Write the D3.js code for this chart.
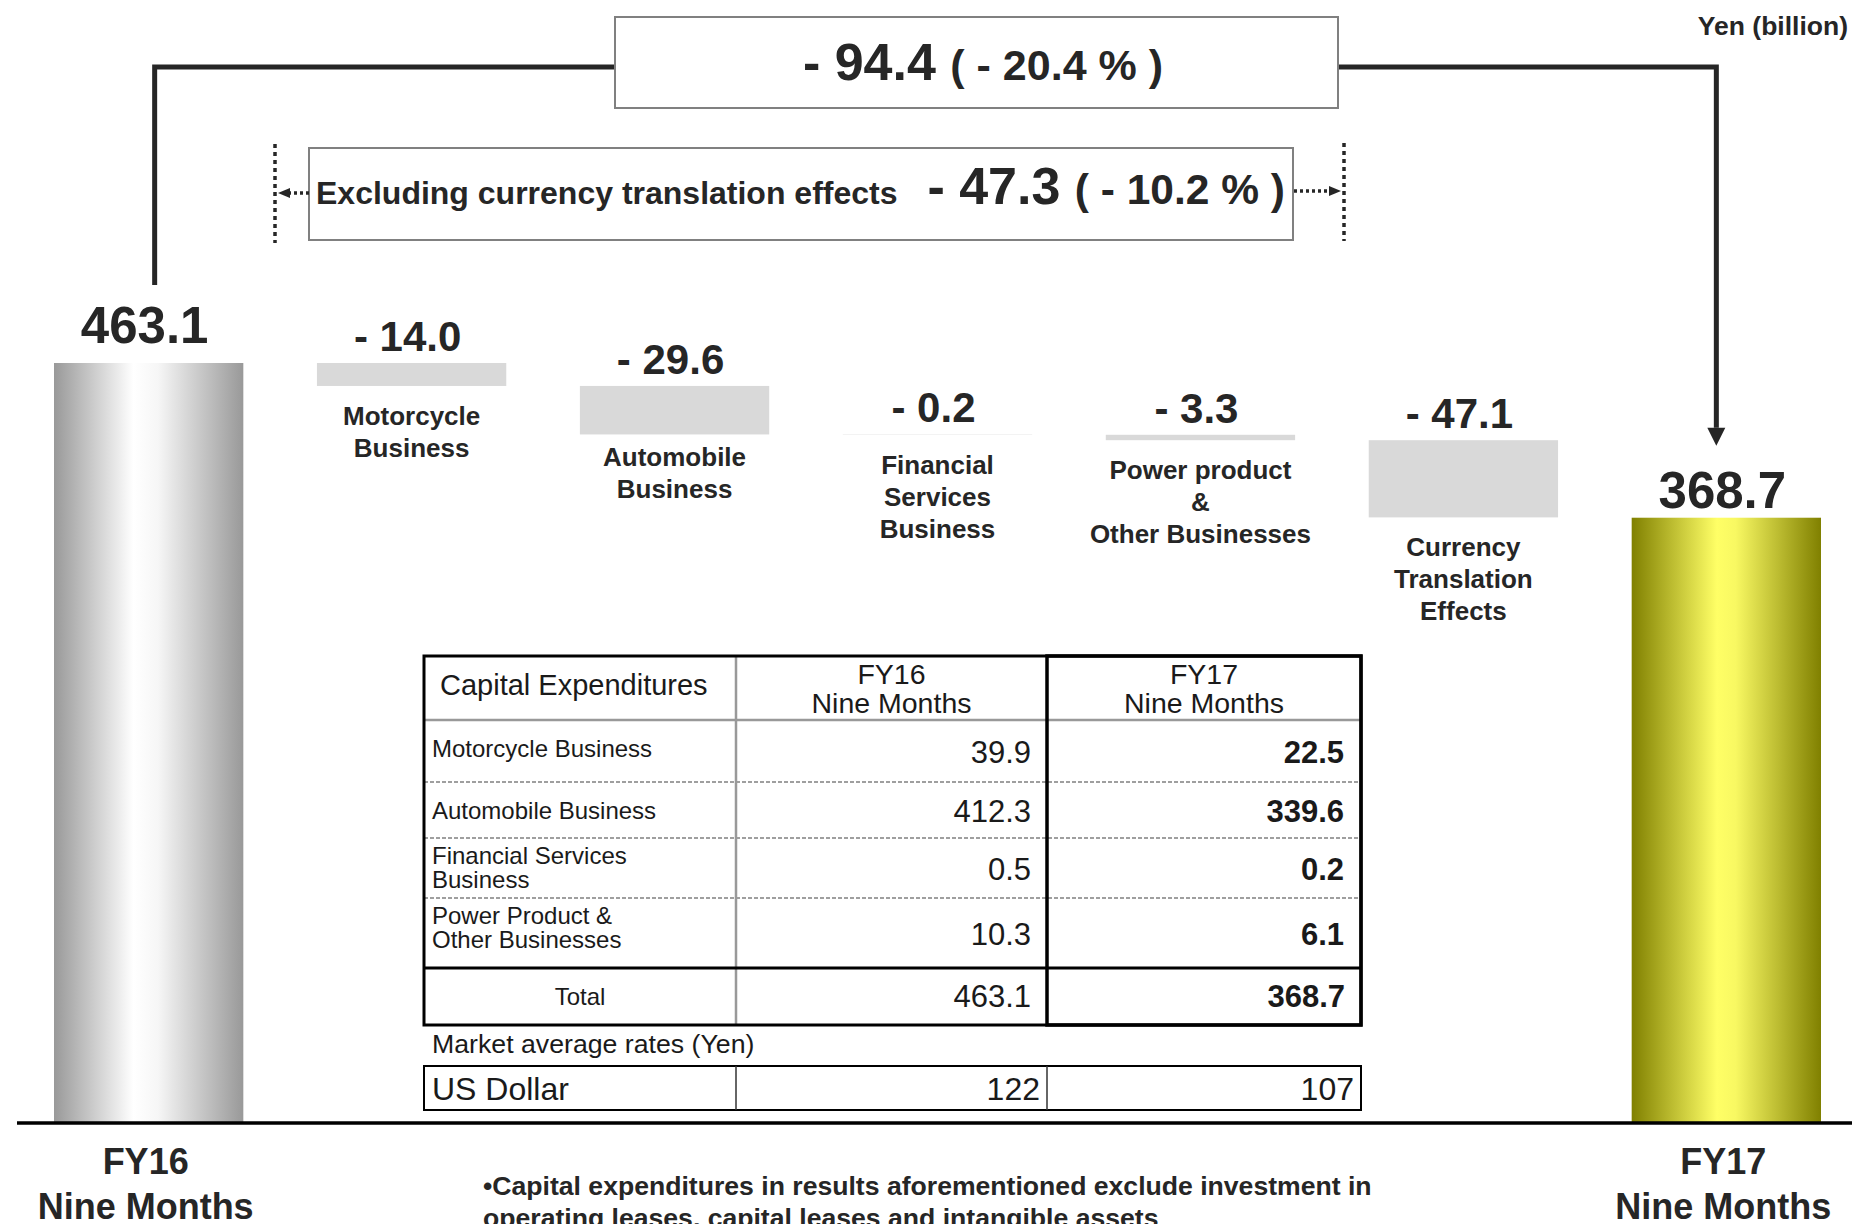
<!DOCTYPE html>
<meta charset="utf-8">
<style>
body { margin: 0; background: #fff; }
svg { display: block; font-family: "Liberation Sans", Arial, sans-serif; }
.dark { fill: #262626; }
.bold { font-weight: bold; }
</style>
<body>
<script src="https://cdn.jsdelivr.net/npm/d3@7"></script>
<script>

// ---- data (Yen billion) ----
var categories = ["FY16 Nine Months", "Motorcycle Business", "Automobile Business",
    "Financial Services Business", "Power product & Other Businesses",
    "Currency Translation Effects", "FY17 Nine Months"];
var categoryLines = [
    ["FY16", "Nine Months"],
    ["Motorcycle", "Business"],
    ["Automobile", "Business"],
    ["Financial", "Services", "Business"],
    ["Power product", "&", "Other Businesses"],
    ["Currency", "Translation", "Effects"],
    ["FY17", "Nine Months"]
];
var startTotal = 463.1;
var changes = [-14.0, -29.6, -0.2, -3.3, -47.1];
var endTotal = 368.7;

var totalChange = -94.4, totalChangePct = -20.4;
var exclChange = -47.3, exclChangePct = -10.2;

// table
var tableRowLabels = [["Motorcycle Business"], ["Automobile Business"],
    ["Financial Services", "Business"], ["Power Product &", "Other Businesses"]];
var tableHeaders = [["FY16", "Nine Months"], ["FY17", "Nine Months"]];
var fy16Values = [39.9, 412.3, 0.5, 10.3];
var fy17Values = [22.5, 339.6, 0.2, 6.1];
var tableTotals = [463.1, 368.7];
var usdRates = [122, 107];

// ---- set up ----
var width = 1852, height = 1224;
var svg = d3.select("body").append("svg")
    .attr("width", width)
    .attr("height", height);

var defs = svg.append("defs");
function gradient(id, stops) {
    var g = defs.append("linearGradient").attr("id", id)
        .attr("x1", 0).attr("x2", 1).attr("y1", 0).attr("y2", 0);
    stops.forEach(function(s) {
        g.append("stop").attr("offset", s[0]).attr("stop-color", s[1]);
    });
}
gradient("gGrey", [[0, "#999999"], [0.42, "#ffffff"], [0.55, "#f6f6f6"], [1, "#999999"]]);
gradient("gYellow", [[0, "#808000"], [0.45, "#ffff66"], [0.55, "#f8f862"], [1, "#808000"]]);

// scales
var x = d3.scaleBand()
    .domain(categories)
    .range([54, 1821])
    .paddingInner(0.28)
    .paddingOuter(0);
var y = d3.scaleLinear()
    .domain([0, startTotal])
    .range([1122, 363]);

// waterfall rows
var bars = [];
bars.push({ cat: categories[0], lo: 0, hi: startTotal, kind: "start", label: d3.format(".1f")(startTotal) });
var run = startTotal;
changes.forEach(function(c, i) {
    bars.push({ cat: categories[i + 1], lo: run + c, hi: run, kind: "change",
        label: "- " + d3.format(".1f")(Math.abs(c)) });
    run += c;
});
bars.push({ cat: categories[6], lo: 0, hi: endTotal, kind: "end", label: d3.format(".1f")(endTotal) });

function cx(cat) { return x(cat) + x.bandwidth() / 2; }

// bars
svg.selectAll(".bar")
    .data(bars)
    .enter().append("rect")
    .attr("class", "bar")
    .attr("x", function(d) { return x(d.cat); })
    .attr("width", x.bandwidth())
    .attr("y", function(d) { return y(d.hi); })
    .attr("height", function(d) { return y(d.lo) - y(d.hi); })
    .attr("fill", function(d) {
        return d.kind === "start" ? "url(#gGrey)" : d.kind === "end" ? "url(#gYellow)" : "#d9d9d9";
    });

// base line
svg.append("line")
    .attr("x1", 17).attr("x2", width)
    .attr("y1", y(0) + 1).attr("y2", y(0) + 1)
    .attr("stroke", "#000").attr("stroke-width", 3.5);

// value labels
var labelGap = { start: 20, change: 12, end: 10 };
svg.selectAll(".vlabel")
    .data(bars)
    .enter().append("text")
    .attr("class", "vlabel dark bold")
    .attr("text-anchor", "middle")
    .attr("x", function(d) { return cx(d.cat) - 4; })
    .attr("y", function(d) { return y(d.hi) - labelGap[d.kind]; })
    .attr("font-size", function(d) { return d.kind === "change" ? 42 : 51; })
    .text(function(d) { return d.label; });

// category labels under the change bars
bars.forEach(function(d, i) {
    if (d.kind !== "change") return;
    var t = svg.append("text").attr("class", "dark bold")
        .attr("text-anchor", "middle").attr("font-size", 26);
    var first = i === 2 ? y(d.lo) + 32 : y(d.lo) + 39;
    categoryLines[i].forEach(function(line, j) {
        t.append("tspan").attr("x", cx(d.cat)).attr("y", first + j * 32).text(line);
    });
});

// FY labels under the base line
[0, 6].forEach(function(i) {
    var t = svg.append("text").attr("class", "dark bold")
        .attr("text-anchor", "middle").attr("font-size", 36);
    categoryLines[i].forEach(function(line, j) {
        t.append("tspan").attr("x", cx(categories[i]) - 3).attr("y", 1174 + j * 45).text(line);
    });
});

// unit
svg.append("text").attr("class", "dark bold")
    .attr("x", 1848).attr("y", 35).attr("text-anchor", "end")
    .attr("font-size", 26.5).text("Yen (billion)");

// ---- total change connector ----
var lineColor = "#262626";
var leftX = cx(categories[0]) + 6, rightX = cx(categories[6]) - 10;
var topY = 67;
svg.append("path")
    .attr("d", "M" + leftX + "," + (y(startTotal) - 78) + "V" + topY + "H" + rightX + "V" + (y(endTotal) - 90))
    .attr("fill", "none").attr("stroke", lineColor).attr("stroke-width", 5);
svg.append("path")
    .attr("d", "M" + (rightX - 9) + "," + (y(endTotal) - 90) + "L" + (rightX + 9) + "," + (y(endTotal) - 90) +
        "L" + rightX + "," + (y(endTotal) - 72) + "Z")
    .attr("fill", lineColor);

svg.append("rect")
    .attr("x", 615).attr("y", 17).attr("width", 723).attr("height", 91)
    .attr("fill", "#fff").attr("stroke", "#808080").attr("stroke-width", 2);
var t1 = svg.append("text").attr("class", "dark bold")
    .attr("x", 1163).attr("y", 80).attr("text-anchor", "end");
t1.append("tspan").attr("font-size", 52).text("- " + Math.abs(totalChange).toFixed(1) + " ");
t1.append("tspan").attr("font-size", 43).text("( - " + Math.abs(totalChangePct).toFixed(1) + " % )");

// ---- excluding currency effects ----
svg.append("rect")
    .attr("x", 309).attr("y", 148).attr("width", 984).attr("height", 92)
    .attr("fill", "#fff").attr("stroke", "#808080").attr("stroke-width", 2);
svg.append("text").attr("class", "dark bold")
    .attr("x", 316).attr("y", 204).attr("font-size", 32)
    .text("Excluding currency translation effects");
var t2 = svg.append("text").attr("class", "dark bold")
    .attr("x", 1285).attr("y", 204).attr("text-anchor", "end");
t2.append("tspan").attr("font-size", 52).text("- " + Math.abs(exclChange).toFixed(1) + " ");
t2.append("tspan").attr("font-size", 42.5).text("( - " + Math.abs(exclChangePct).toFixed(1) + " % )");

// dotted bounds + arrows
[[275, 144, 243], [1344, 143, 241]].forEach(function(v) {
    svg.append("line")
        .attr("x1", v[0]).attr("x2", v[0]).attr("y1", v[1]).attr("y2", v[2])
        .attr("stroke", lineColor).attr("stroke-width", 3.5).attr("stroke-dasharray", "4,4");
});
svg.append("line").attr("x1", 288).attr("x2", 309).attr("y1", 193).attr("y2", 193)
    .attr("stroke", lineColor).attr("stroke-width", 3.5).attr("stroke-dasharray", "3,3");
svg.append("path").attr("d", "M278,193L290,188L290,198Z").attr("fill", lineColor);
svg.append("line").attr("x1", 1294).attr("x2", 1328).attr("y1", 191).attr("y2", 191)
    .attr("stroke", lineColor).attr("stroke-width", 3.5).attr("stroke-dasharray", "3,3");
svg.append("path").attr("d", "M1341,191L1329,186L1329,196Z").attr("fill", lineColor);

// ---- table ----
var colX = [424, 736, 1047, 1361];
var rowY = [656, 720, 782, 838, 898, 968, 1025];
var tbl = svg.append("g").attr("fill", "#1a1a1a");

// header
tbl.append("text").attr("x", colX[0] + 16).attr("y", 695).attr("font-size", 29).text("Capital Expenditures");
tableHeaders.forEach(function(h, k) {
    var t = tbl.append("text").attr("text-anchor", "middle").attr("font-size", 28.5);
    h.forEach(function(line, j) {
        t.append("tspan").attr("x", (colX[k + 1] + colX[k + 2]) / 2).attr("y", 684 + j * 29).text(line);
    });
});

// body rows
tableRowLabels.forEach(function(lines, i) {
    var top = rowY[i + 1], bot = rowY[i + 2];
    var t = tbl.append("text").attr("font-size", 24);
    var first = lines.length === 1 ? top + 37 : top + 26;
    lines.forEach(function(line, j) {
        t.append("tspan").attr("x", colX[0] + 8).attr("y", first + j * 24).text(line);
    });
    var ny = (top + bot) / 2 + 12;
    tbl.append("text").attr("x", colX[2] - 16).attr("y", ny).attr("text-anchor", "end")
        .attr("font-size", 31).text(fy16Values[i].toFixed(1));
    tbl.append("text").attr("x", colX[3] - 17).attr("y", ny).attr("text-anchor", "end")
        .attr("font-size", 31).attr("font-weight", "bold").text(fy17Values[i].toFixed(1));
});

// total row
tbl.append("text").attr("x", (colX[0] + colX[1]) / 2).attr("y", 1005).attr("text-anchor", "middle")
    .attr("font-size", 24).text("Total");
tableTotals.forEach(function(v, k) {
    tbl.append("text").attr("x", colX[k + 2] - 16).attr("y", 1007).attr("text-anchor", "end")
        .attr("font-size", 31).attr("font-weight", k === 1 ? "bold" : null).text(v.toFixed(1));
});

// grid lines
var grid = svg.append("g").attr("fill", "none");
[rowY[2], rowY[3], rowY[4]].forEach(function(yy) {
    grid.append("line").attr("x1", colX[0]).attr("x2", colX[3]).attr("y1", yy).attr("y2", yy)
        .attr("stroke", "#808080").attr("stroke-width", 1.5).attr("stroke-dasharray", "4,2");
});
grid.append("line").attr("x1", colX[0]).attr("x2", colX[3]).attr("y1", rowY[1]).attr("y2", rowY[1])
    .attr("stroke", "#999").attr("stroke-width", 2.5);
grid.append("line").attr("x1", colX[1]).attr("x2", colX[1]).attr("y1", rowY[0]).attr("y2", rowY[6])
    .attr("stroke", "#999").attr("stroke-width", 2.5);
grid.append("line").attr("x1", colX[0]).attr("x2", colX[3]).attr("y1", rowY[5]).attr("y2", rowY[5])
    .attr("stroke", "#000").attr("stroke-width", 3);
grid.append("rect").attr("x", colX[0]).attr("y", rowY[0])
    .attr("width", colX[3] - colX[0]).attr("height", rowY[6] - rowY[0])
    .attr("stroke", "#000").attr("stroke-width", 3);
grid.append("rect").attr("x", colX[2]).attr("y", rowY[0])
    .attr("width", colX[3] - colX[2]).attr("height", rowY[6] - rowY[0])
    .attr("stroke", "#000").attr("stroke-width", 3.5);

// market rates
tbl.append("text").attr("x", colX[0] + 8).attr("y", 1053).attr("font-size", 26.7).text("Market average rates (Yen)");
grid.append("rect").attr("x", colX[0]).attr("y", 1066)
    .attr("width", colX[3] - colX[0]).attr("height", 44)
    .attr("stroke", "#000").attr("stroke-width", 2);
[colX[1], colX[2]].forEach(function(xx) {
    grid.append("line").attr("x1", xx).attr("x2", xx).attr("y1", 1066).attr("y2", 1110)
        .attr("stroke", "#333").attr("stroke-width", 1.5);
});
tbl.append("text").attr("x", colX[0] + 8).attr("y", 1100).attr("font-size", 32).text("US Dollar");
usdRates.forEach(function(v, k) {
    tbl.append("text").attr("x", colX[k + 2] - 7).attr("y", 1100).attr("text-anchor", "end")
        .attr("font-size", 32).text(v);
});

// footnote
var fn = svg.append("text").attr("class", "dark bold").attr("font-size", 26.6);
fn.append("tspan").attr("x", 483).attr("y", 1195)
    .text("\u2022Capital expenditures in results aforementioned exclude investment in");
fn.append("tspan").attr("x", 483).attr("y", 1227)
    .text("operating leases, capital leases and intangible assets");

</script>
</body>
